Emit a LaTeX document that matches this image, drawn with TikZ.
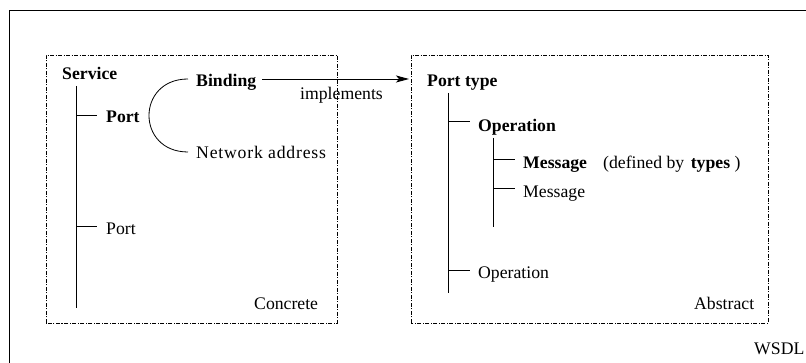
\documentclass[tikz,border=0pt]{standalone}
\usepackage{fontspec}
\setmainfont{Liberation Serif}
\usetikzlibrary{arrows.meta}

\begin{document}
\begin{tikzpicture}[x=1pt,y=1pt,
  lbl/.style={anchor=base west,inner sep=0pt,font=\fontsize{17.7}{20}\selectfont},
  tree/.style={line width=1pt},
  region/.style={line width=0.8pt,dash pattern=on 4pt off 1.5pt on 1pt off 1.5pt},
  frameline/.style={line width=1pt}]
\useasboundingbox (0,0) rectangle (806,363);

% outer frame
\draw[frameline] (9,0) -- (9,352) -- (806,352);

% the two regions
\draw[region] (46,40) rectangle (337,308);
\draw[region] (411,40) rectangle (768,308);

% concrete part
\node[lbl] (service) at (62,283) {\textbf{Service}};
\node[lbl] (portA) at (106,240) {\textbf{Port}};
\node[lbl] (portB) at (106,128) {Port};
\node[lbl] (binding) at (196,276) {\textbf{Binding}};
\node[lbl] (netaddr) at (196,204) {\addfontfeatures{LetterSpace=4.5}Network address};
\node[lbl] (concrete) at (254,53) {Concrete};

\coordinate (stop) at (76,277);
\coordinate (sbot) at (76,55);
\draw[tree] (stop) -- (sbot);
\coordinate (tportA) at (76,247);
\coordinate (tportB) at (76,136);
\draw[tree] (tportA) -- ++(21,0);
\draw[tree] (tportB) -- ++(21,0);

\coordinate (bindL) at (188,284);
\coordinate (netL) at (188,211);
\draw[line width=0.8pt] (bindL) .. controls (136,284) and (136,211) .. (netL);

% abstract part
\node[lbl] (porttype) at (427,276) {\textbf{Port type}};
\node[lbl] (opA) at (478,231) {\textbf{Operation}};
\node[lbl] (msgA) at (523,194) {\textbf{Message}};
\node[lbl] (defby) at (603,194) {(defined by\hspace{0.12em} \textbf{types} )};
\node[lbl] (msgB) at (523,165) {Message};
\node[lbl] (opB) at (478,84) {Operation};
\node[lbl] (abstract) at (694,53) {Abstract};

\coordinate (ptop) at (448,270);
\coordinate (pbot) at (448,70);
\draw[tree] (ptop) -- (pbot);
\coordinate (topA) at (448,241);
\coordinate (topB) at (448,92);
\draw[tree] (topA) -- ++(22,0);
\draw[tree] (topB) -- ++(22,0);

\coordinate (otop) at (493,225);
\coordinate (obot) at (493,136);
\draw[tree] (otop) -- (obot);
\coordinate (tmsgA) at (493,203);
\coordinate (tmsgB) at (493,174);
\draw[tree] (tmsgA) -- ++(22,0);
\draw[tree] (tmsgB) -- ++(22,0);

% binding implements port type
\coordinate (arrS) at (262,284);
\coordinate (arrE) at (409,284);
\draw[line width=0.9pt,-{Stealth[length=13pt,width=7pt,inset=3pt]}] (arrS) -- (arrE);
\node[lbl] (impl) at (300,263) {implements};

\node[lbl] (wsdl) at (754,8) {WSDL};
\end{tikzpicture}
\end{document}
